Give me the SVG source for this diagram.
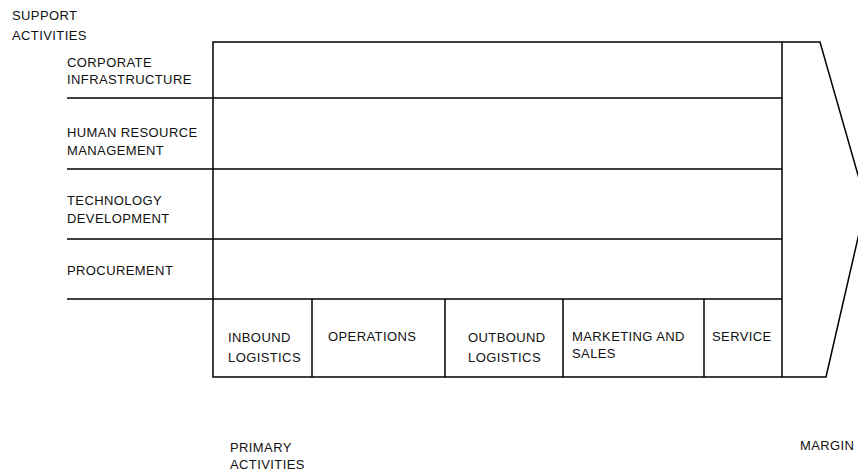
<svg xmlns="http://www.w3.org/2000/svg" width="858" height="476" viewBox="0 0 858 476">
  <style>
    .ln { stroke: #000; stroke-width: 1.5; fill: none; }
    .t { font-family: "Liberation Sans", Arial, sans-serif; font-size: 13px; letter-spacing: 0.4px; fill: #111; }
  </style>
  <rect width="858" height="476" fill="#fff"/>

  <!-- frame and margin arrow -->
  <g id="connectors">
    <path class="ln" d="M213,42 H820 L866,203 L826,377 H213 Z"/>
    <line class="ln" x1="782" y1="42" x2="782" y2="377"/>
    <line class="ln" x1="67" y1="98" x2="782" y2="98"/>
    <line class="ln" x1="67" y1="169" x2="782" y2="169"/>
    <line class="ln" x1="67" y1="239" x2="782" y2="239"/>
    <line class="ln" x1="67" y1="299" x2="782" y2="299"/>
    <line class="ln" x1="312" y1="299" x2="312" y2="377"/>
    <line class="ln" x1="445" y1="299" x2="445" y2="377"/>
    <line class="ln" x1="563" y1="299" x2="563" y2="377"/>
    <line class="ln" x1="704" y1="299" x2="704" y2="377"/>
  </g>

  <g id="support-label">
    <text class="t" x="12" y="20">SUPPORT</text>
    <text class="t" x="12" y="40">ACTIVITIES</text>
  </g>
  <g id="corporate-infrastructure">
    <text class="t" x="67" y="67">CORPORATE</text>
    <text class="t" x="67" y="84">INFRASTRUCTURE</text>
  </g>
  <g id="human-resource-management">
    <text class="t" x="67" y="137">HUMAN RESOURCE</text>
    <text class="t" x="67" y="155">MANAGEMENT</text>
  </g>
  <g id="technology-development">
    <text class="t" x="67" y="205">TECHNOLOGY</text>
    <text class="t" x="67" y="223">DEVELOPMENT</text>
  </g>
  <g id="procurement">
    <text class="t" x="67" y="275">PROCUREMENT</text>
  </g>
  <g id="inbound-logistics">
    <text class="t" x="228" y="342">INBOUND</text>
    <text class="t" x="228" y="362">LOGISTICS</text>
  </g>
  <g id="operations">
    <text class="t" x="328" y="341">OPERATIONS</text>
  </g>
  <g id="outbound-logistics">
    <text class="t" x="468" y="342">OUTBOUND</text>
    <text class="t" x="468" y="362">LOGISTICS</text>
  </g>
  <g id="marketing-sales">
    <text class="t" x="572" y="341">MARKETING AND</text>
    <text class="t" x="572" y="358">SALES</text>
  </g>
  <g id="service">
    <text class="t" x="712" y="341">SERVICE</text>
  </g>
  <g id="primary-label">
    <text class="t" x="230" y="452">PRIMARY</text>
    <text class="t" x="230" y="469">ACTIVITIES</text>
  </g>
  <g id="margin-label">
    <text class="t" x="800" y="450">MARGIN</text>
  </g>
</svg>
